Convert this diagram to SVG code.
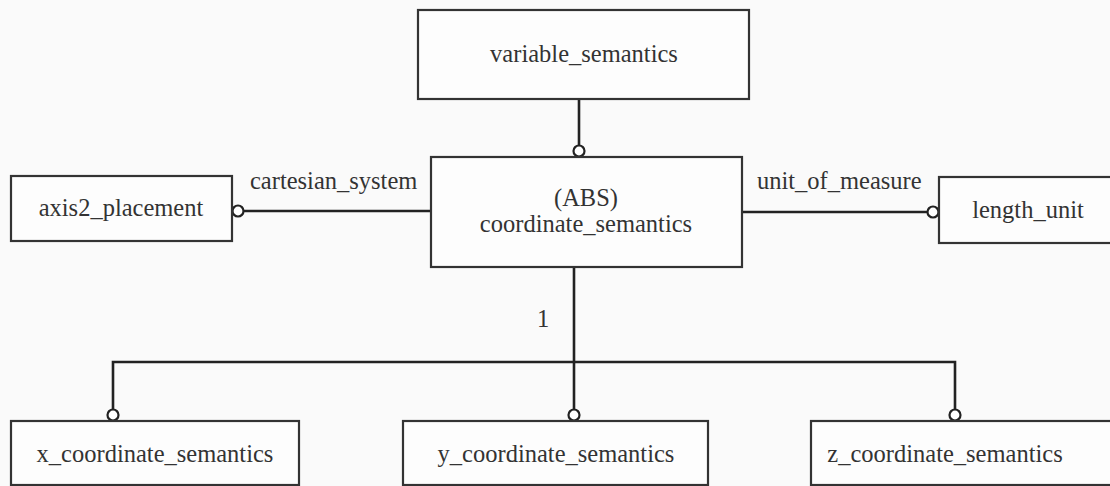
<svg xmlns="http://www.w3.org/2000/svg" width="1110" height="486" viewBox="0 0 1110 486" font-family="'Liberation Serif', 'Times New Roman', Times, serif">
<style>
.box{fill:#fdfdfd;stroke:#333;stroke-width:2.2}
.ln{fill:none;stroke:#222;stroke-width:2.6}
.circ{fill:#fff;stroke:#222;stroke-width:2.2}
text{font-family:'Liberation Serif','Times New Roman',Times,serif;font-size:24.5px;fill:#333}
.m{text-anchor:middle}
</style>
<rect width="1110" height="486" fill="#fafafa"/>
<g id="connectors">
<line class="ln" x1="579" y1="99" x2="579" y2="145"/>
<circle class="circ" cx="579" cy="151" r="5.5"/>
<line class="ln" x1="244" y1="211" x2="431" y2="211"/>
<circle class="circ" cx="238" cy="211" r="5.5"/>
<text x="250" y="189">cartesian_system</text>
<line class="ln" x1="742" y1="212" x2="927" y2="212"/>
<circle class="circ" cx="933" cy="212" r="5.5"/>
<text x="757" y="189">unit_of_measure</text>
<line class="ln" x1="574" y1="267" x2="574" y2="409"/>
<polyline class="ln" points="113,409 113,362 955,362 955,409"/>
<text x="543" y="327" class="m">1</text>
<circle class="circ" cx="113" cy="415" r="5.5"/>
<circle class="circ" cx="574" cy="415" r="5.5"/>
<circle class="circ" cx="955" cy="415" r="5.5"/>
</g>
<g id="variable_semantics">
<rect class="box" x="418" y="10" width="331" height="89"/>
<text x="584" y="62" class="m">variable_semantics</text>
</g>
<g id="coordinate_semantics">
<rect class="box" x="431" y="157" width="311" height="110"/>
<text x="586" y="206" class="m">(ABS)</text>
<text x="586" y="232" class="m">coordinate_semantics</text>
</g>
<g id="axis2_placement">
<rect class="box" x="11" y="176" width="221" height="65"/>
<text x="121" y="216" class="m">axis2_placement</text>
</g>
<g id="length_unit">
<rect class="box" x="939" y="177" width="180" height="66"/>
<text x="1028" y="218" class="m">length_unit</text>
</g>
<g id="x_coordinate_semantics">
<rect class="box" x="11" y="421" width="288" height="64"/>
<text x="155" y="462" class="m">x_coordinate_semantics</text>
</g>
<g id="y_coordinate_semantics">
<rect class="box" x="403" y="421" width="305" height="64"/>
<text x="556" y="462" class="m">y_coordinate_semantics</text>
</g>
<g id="z_coordinate_semantics">
<rect class="box" x="811" y="421" width="310" height="64"/>
<text x="945" y="462" class="m">z_coordinate_semantics</text>
</g>
</svg>
